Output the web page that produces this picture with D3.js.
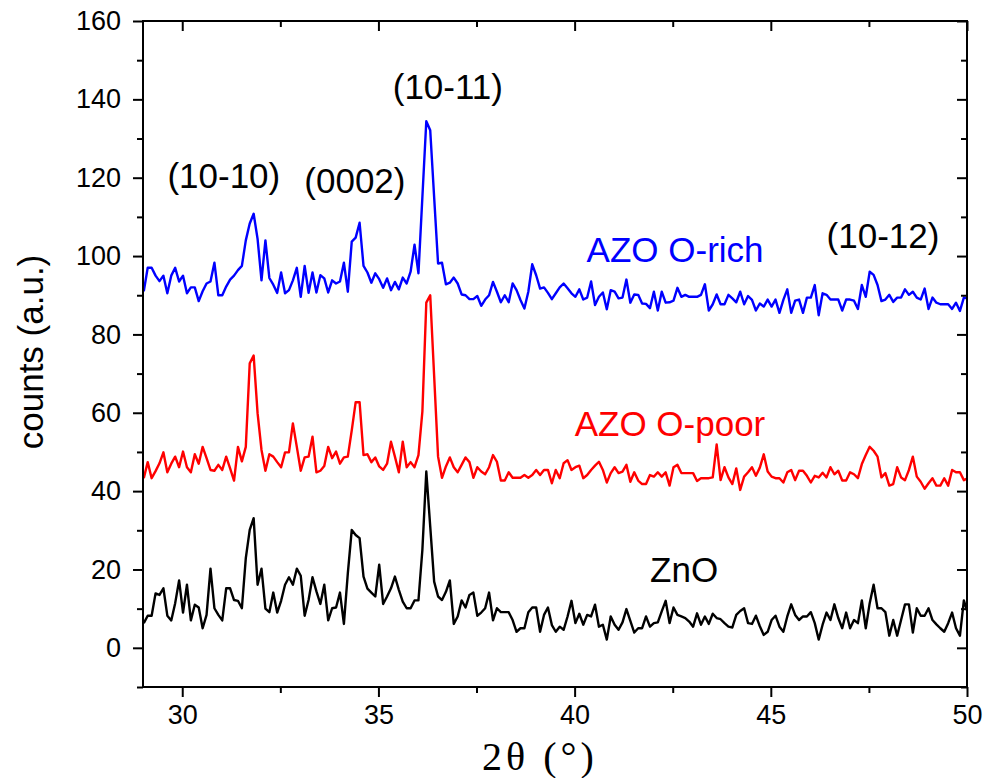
<!DOCTYPE html>
<html>
<head>
<meta charset="utf-8">
<script src="https://cdn.jsdelivr.net/npm/d3@7/dist/d3.min.js"></script>
<style>
  body { margin: 0; background: #fff; }
  svg text { font-family: "Liberation Sans", Arial, sans-serif; }
</style>
</head>
<body>
<script>
// 2theta grid of the scans (deg)
var twoThetaStart = 29.02;
var twoThetaStep = 0.1;

// counts, AZO O-rich (shifted up)
var azoRich = [
  91, 97, 97, 95, 93.6, 95, 90.5, 95, 97, 93.5,
  95, 90.5, 92, 92, 88.5, 91, 93, 93.5, 98.3, 90,
  90, 92.2, 94, 95, 96.4, 97.5, 104, 108.3, 110.8, 104.4,
  93.8, 104, 94.4, 92.7, 90.6, 95.8, 90.5, 91.3, 93.8, 97,
  89.6, 97.5, 90.6, 95.8, 90.7, 95.1, 94.3, 90.7, 93.8, 93,
  93.5, 98.3, 90.9, 103.7, 104.7, 108.5, 97.5, 95.8, 93.2, 95.6,
  94.1, 91.9, 94.3, 91.3, 93.4, 91.5, 94.5, 93, 96, 102.9,
  95.6, 115, 134.4, 132.1, 115, 98.1, 98.3, 92.8, 93.2, 94.5,
  93, 90.2, 90, 89, 89, 89.8, 87.3, 88.9, 90, 93.4,
  90.9, 88.2, 90, 88.2, 93, 91.3, 88.8, 86.6, 90.9, 97.9,
  95.1, 91.7, 92, 90.6, 89, 90.5, 92, 93, 91.8, 90.5,
  89.6, 91.5, 88.9, 89.4, 93.5, 87.5, 89.6, 90.7, 86.4, 91.3,
  90.9, 89.2, 89.4, 94, 88.1, 90.2, 90.1, 87.9, 87.8, 86.7,
  90.9, 86.1, 90.9, 88.1, 88.2, 88.6, 91.9, 89.6, 90.1, 89.6,
  89.6, 89.6, 90.1, 92.8, 86.1, 87.7, 90.2, 87.7, 87.7, 90.1,
  89.2, 88.2, 90.9, 87.7, 89.8, 88.8, 86.1, 87.9, 87.1, 88.9,
  87.1, 88.9, 85.5, 88.8, 91.5, 85.5, 88.6, 88.9, 85.5, 89.4,
  89.4, 92.6, 84.9, 90.5, 90.1, 88.9, 88.9, 88.9, 86.1, 88.9,
  88.9, 88.6, 86.5, 92.6, 89.6, 96, 95.2, 92.6, 88.5, 88.9,
  90.1, 88.3, 89.4, 89.4, 91.5, 90.1, 90.9, 89.4, 88.9, 91.7,
  86.5, 89.4, 88.1, 87.7, 87.7, 87.7, 86.5, 88.1, 86, 89.4,
  89.2
];

// counts, AZO O-poor (shifted up)
var azoPoor = [
  43.3, 47.4, 43.3, 45.1, 47.1, 49.9, 44.8, 47, 48.8, 46.1,
  50.1, 46.1, 44.8, 49.4, 47, 51.3, 48.4, 45.4, 45.2, 46.7,
  45.4, 48.8, 45.8, 42.7, 51.3, 47.6, 51.3, 72.6, 74.6, 59.9,
  50.5, 45.2, 49.4, 48.8, 47.4, 46.1, 49.9, 49.9, 57.3, 51.3,
  45.2, 48.6, 48.8, 53.9, 44.8, 45.2, 46.4, 51.3, 48.4, 50.1,
  47, 48.6, 48.8, 55.5, 62.7, 62.7, 49.2, 49.4, 47.4, 48.6,
  46.3, 45.4, 47, 52.6, 48.8, 44.8, 52.6, 46.1, 47.4, 46.1,
  49.2, 60.3, 88.1, 90, 69.4, 48.8, 43.4, 46.3, 48.6, 46.1,
  44.8, 46.7, 48.6, 47.4, 43.4, 46.1, 45, 44.3, 46.1, 49.2,
  47.5, 42.7, 42.7, 44.8, 43.4, 43.4, 43.4, 44.1, 43.4, 44.1,
  45.4, 44.1, 45.4, 45.4, 42, 45.4, 43.3, 47.1, 47.9, 45.4,
  46.1, 46.5, 43.3, 44.1, 45.4, 46.5, 47.5, 45.4, 42.2, 44.6,
  46.1, 44.6, 45, 46.7, 42.4, 44.8, 42.7, 41.8, 41.8, 44.1,
  43.7, 44.8, 43.7, 44.8, 41.4, 46.1, 46.7, 44.6, 44.6, 44.6,
  44.6, 42.6, 43.3, 43.3, 43.3, 43.5, 51.9, 42.8, 46.1, 43.5,
  41.8, 45.8, 40.3, 43.7, 44.8, 46.1, 43.9, 46, 49.4, 45,
  43.7, 43.3, 43.3, 42.2, 44.8, 45.4, 42.8, 45.2, 45.2, 43.9,
  42.2, 43.9, 43.5, 44.7, 43.5, 46.1, 44.3, 45.2, 42.7, 42.7,
  44.8, 44.3, 43.3, 46.9, 49.2, 51.3, 50.3, 48.8, 43.5, 44.6,
  41.4, 41.8, 46.1, 43.5, 42.8, 45.4, 48.8, 43.7, 42.4, 40.6,
  42, 43.3, 41.4, 41.4, 43.3, 41.4, 45.4, 44.8, 44.8, 42.8,
  43.3
];

// counts, ZnO
var zno = [
  6.3, 8.2, 8.2, 13.9, 13.5, 15.2, 8.2, 7, 11.4, 17.2,
  9, 16.1, 7, 11, 10.3, 5, 8.4, 20.2, 10.1, 8.4,
  7, 15.2, 15.2, 12.2, 12, 10.1, 22.9, 30.1, 33.1, 16.1,
  20.2, 10, 9.1, 14.1, 9, 12, 16.1, 18, 16.1, 20.2,
  18.4, 8.2, 12.2, 18, 14.4, 11.2, 16.1, 7, 10.1, 10.3,
  14.1, 6.1, 19, 30.1, 28.8, 28, 18.2, 15.1, 14.1, 13.1,
  21.2, 11.2, 13.1, 15.2, 18.2, 14.8, 11.8, 10.1, 10.1, 12.1,
  12.1, 25, 45, 31, 16.9, 13.1, 12.2, 14.3, 17.2, 6.1,
  8, 12.1, 10.3, 13.5, 14.1, 8.2, 9, 10.1, 14.1, 7,
  10.1, 9.1, 9.1, 9.1, 7.1, 4.1, 5, 5, 9.1, 10.3,
  10.3, 4.1, 8.4, 10.3, 5.8, 4.1, 5.4, 4.6, 8, 12,
  6.3, 8.7, 5.9, 8.4, 8, 11, 5.4, 5.9, 2.1, 8,
  5.9, 4.6, 6.5, 9.9, 6.9, 3.9, 5, 5, 8, 5.4,
  6.3, 6.5, 9.3, 12, 6.3, 10.3, 8.4, 8, 7.6, 6.7,
  5.4, 8.8, 5.9, 8, 6.1, 8.7, 7.6, 7.3, 6.3, 5.4,
  5.2, 8.4, 9.4, 10.1, 6.3, 6.1, 8.2, 5.5, 3.3, 4.1,
  7.1, 8.2, 5.4, 4.1, 8, 11.1, 8.4, 7.1, 8, 8,
  9.1, 6.3, 2.1, 5.9, 9, 7.1, 11.1, 7.6, 5, 9,
  5, 7.1, 6.3, 12.1, 5, 11.4, 16.1, 10.1, 10.1, 9.1,
  3.1, 7.1, 3.1, 7.1, 11.1, 11.1, 3.9, 10.1, 8.2, 8.2,
  10.1, 7.1, 6, 5, 4.1, 6.3, 9, 5, 3.1, 12.1,
  8.9
];

var seriesNames = ["AZO O-rich", "AZO O-poor", "ZnO"];
var seriesColors = ["#0000ff", "#ff0000", "#000000"];

var xTicks = [30, 35, 40, 45, 50];
var yTicks = [0, 20, 40, 60, 80, 100, 120, 140, 160];

// reflection labels: text, 2theta, counts
var peakNames = ["(10-10)", "(0002)", "(10-11)", "(10-12)"];
var peakTheta = [31.06, 34.4, 36.77, 47.86];
var peakCounts = [117.3, 116.1, 140, 102];

// sample labels: 2theta, counts
var nameTheta = [42.56, 42.43, 42.79];
var nameCounts = [98.5, 54.1, 16.8];

var W = 989, H = 778;
var mLeft = 143, mRight = 967, mTop = 21, mBottom = 687;

var svg = d3.select("body").append("svg")
  .attr("width", W)
  .attr("height", H);

var x = d3.scaleLinear().domain([29, 50]).range([mLeft, mRight]);
var y = d3.scaleLinear().domain([-10, 160]).range([mBottom, mTop]);

svg.append("clipPath").attr("id", "clip")
  .append("rect")
  .attr("x", mLeft).attr("y", mTop)
  .attr("width", mRight - mLeft).attr("height", mBottom - mTop);

var line = d3.line()
  .x(function (d, i) { return x(twoThetaStart + i * twoThetaStep); })
  .y(function (d) { return y(d); });

var plot = svg.append("g").attr("clip-path", "url(#clip)");
[azoRich, azoPoor, zno].forEach(function (s, k) {
  plot.append("path")
    .datum(s)
    .attr("d", line)
    .attr("fill", "none")
    .attr("stroke", seriesColors[k])
    .attr("stroke-width", 2.4)
    .attr("stroke-linejoin", "round");
});

// axes
var yMinor = d3.range(-10, 161, 10).filter(function (v) { return v % 20 !== 0; });
var xMinor = [32.5, 37.5, 42.5, 47.5];

function styleAxis(g) {
  g.select(".domain").remove();
  g.selectAll("line").attr("stroke", "#000").attr("stroke-width", 2);
  g.selectAll("text").attr("font-size", 27).attr("fill", "#000")
    .style("font-family", "'Liberation Sans', Arial, sans-serif");
}

svg.append("g").attr("transform", "translate(" + mLeft + ",0)")
  .call(d3.axisLeft(y).tickValues(yTicks).tickSize(10).tickPadding(12))
  .call(styleAxis);
svg.append("g").attr("transform", "translate(" + mLeft + ",0)")
  .call(d3.axisLeft(y).tickValues(yMinor).tickSize(6).tickFormat(""))
  .call(styleAxis);
svg.append("g").attr("transform", "translate(" + mRight + ",0)")
  .call(d3.axisLeft(y).tickValues(yTicks).tickSize(10).tickFormat(""))
  .call(styleAxis);
svg.append("g").attr("transform", "translate(" + mRight + ",0)")
  .call(d3.axisLeft(y).tickValues(yMinor).tickSize(6).tickFormat(""))
  .call(styleAxis);

svg.append("g").attr("transform", "translate(0," + mBottom + ")")
  .call(d3.axisBottom(x).tickValues(xTicks).tickSize(10).tickPadding(8))
  .call(styleAxis);
svg.append("g").attr("transform", "translate(0," + mBottom + ")")
  .call(d3.axisBottom(x).tickValues(xMinor).tickSize(6).tickFormat(""))
  .call(styleAxis);
svg.append("g").attr("transform", "translate(0," + mTop + ")")
  .call(d3.axisBottom(x).tickValues(xTicks).tickSize(10).tickFormat(""))
  .call(styleAxis);
svg.append("g").attr("transform", "translate(0," + mTop + ")")
  .call(d3.axisBottom(x).tickValues(xMinor).tickSize(6).tickFormat(""))
  .call(styleAxis);

// frame
svg.append("rect")
  .attr("x", mLeft).attr("y", mTop)
  .attr("width", mRight - mLeft).attr("height", mBottom - mTop)
  .attr("fill", "none").attr("stroke", "#000").attr("stroke-width", 2);

// axis titles
svg.append("text")
  .attr("transform", "translate(43," + 352 + ") rotate(-90)")
  .attr("text-anchor", "middle")
  .attr("font-size", 35)
  .text("counts (a.u.)");

svg.append("text")
  .attr("x", 540)
  .attr("y", 770)
  .attr("text-anchor", "middle")
  .attr("font-size", 40)
  .attr("letter-spacing", 4)
  .style("font-family", "'Liberation Serif', 'Times New Roman', serif")
  .text("2\u03b8 (\u00b0)");

// reflection labels
peakNames.forEach(function (t, i) {
  svg.append("text")
    .attr("x", x(peakTheta[i]))
    .attr("y", y(peakCounts[i]))
    .attr("text-anchor", "middle")
    .attr("font-size", 35)
    .attr("fill", "#000")
    .text(t);
});

// sample labels
seriesNames.forEach(function (t, i) {
  svg.append("text")
    .attr("x", x(nameTheta[i]))
    .attr("y", y(nameCounts[i]))
    .attr("text-anchor", "middle")
    .attr("font-size", 35)
    .attr("fill", seriesColors[i])
    .text(t);
});
</script>
</body>
</html>
